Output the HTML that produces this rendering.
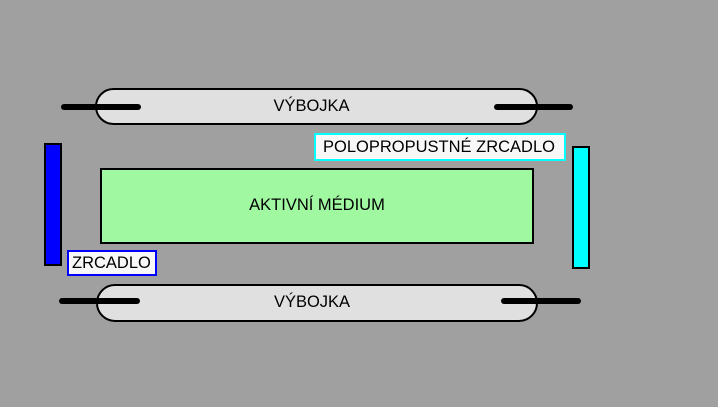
<!DOCTYPE html>
<html><head><style>
body{margin:0;width:718px;height:407px;background:#a0a0a0;position:relative;overflow:hidden;font-family:"Liberation Sans",sans-serif;}
div{position:absolute;box-sizing:border-box;}
.tube{background:#e0e0e0;border:2px solid #000;border-radius:19px;font-size:16.5px;text-align:center;padding-right:10px;}
.ln{height:6px;background:#000;border-radius:3px;}
</style></head><body>
<div class="tube" style="left:95px;top:88px;width:443px;height:37px;line-height:33px;">VÝBOJKA</div>
<div class="ln" style="left:61px;top:104px;width:80px;"></div>
<div class="ln" style="left:494px;top:104px;width:79px;"></div>
<div class="tube" style="left:96px;top:284px;width:442px;height:38px;line-height:33px;">VÝBOJKA</div>
<div class="ln" style="left:59px;top:298px;width:81px;"></div>
<div class="ln" style="left:501px;top:298px;width:80px;"></div>
<div style="left:44px;top:143px;width:18px;height:123px;background:#0000ff;border:2px solid #000;"></div>
<div style="left:100px;top:168px;width:434px;height:76px;background:#a0f8a0;border:2px solid #000;font-size:16.5px;text-align:center;line-height:70px;">AKTIVNÍ MÉDIUM</div>
<div style="left:67px;top:250px;width:90px;height:26px;background:#f8f8f8;border:2px solid #0000ff;font-size:16.5px;line-height:22px;padding-left:3px;">ZRCADLO</div>
<div style="left:572px;top:146px;width:18px;height:123px;background:#00ffff;border:2px solid #000;"></div>
<div style="left:314px;top:133px;width:252px;height:28px;background:#f8f8f8;border:2px solid #00ffff;font-size:16.5px;line-height:24px;padding-left:7px;white-space:nowrap;">POLOPROPUSTNÉ ZRCADLO</div>
</body></html>
